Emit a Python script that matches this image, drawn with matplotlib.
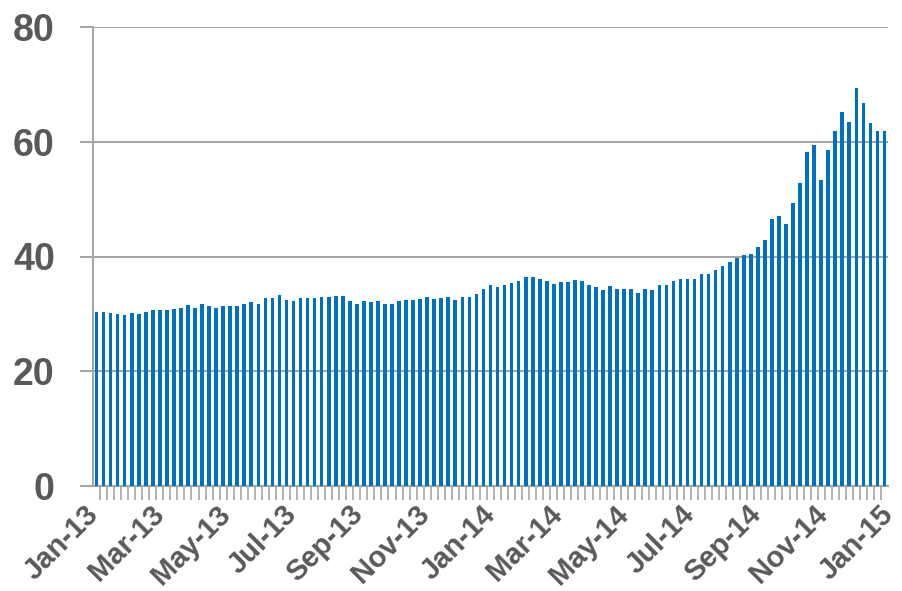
"""Weekly bars, Jan-13 to Jan-15"""

import numpy as np
import matplotlib.pyplot as plt
from matplotlib.transforms import ScaledTranslation

values = [
    30.3, 30.3, 30.2, 30.0, 29.8, 30.1, 30.0, 30.4, 30.7, 30.7,
    30.6, 30.8, 31.0, 31.5, 31.1, 31.7, 31.3, 31.0, 31.4, 31.4,
    31.4, 31.8, 32.1, 31.7, 32.8, 32.8, 33.3, 32.5, 32.3, 32.7,
    32.7, 32.7, 32.9, 32.9, 33.2, 33.2, 32.3, 31.7, 32.2, 32.1,
    32.2, 31.7, 31.7, 32.2, 32.5, 32.4, 32.6, 33.0, 32.6, 32.8,
    32.9, 32.4, 33.0, 33.0, 33.4, 34.4, 35.0, 34.7, 35.1, 35.4,
    35.8, 36.4, 36.5, 36.1, 35.7, 35.2, 35.6, 35.5, 35.9, 35.8,
    35.1, 34.7, 34.1, 34.8, 34.3, 34.3, 34.3, 33.6, 34.3, 34.2,
    35.1, 35.1, 35.7, 36.1, 36.1, 36.0, 37.0, 36.9, 37.6, 38.3,
    39.0, 39.8, 40.3, 40.5, 41.7, 42.9, 46.6, 47.1, 45.7, 49.3,
    52.8, 58.2, 59.4, 53.3, 58.6, 61.9, 65.1, 63.5, 69.3, 66.7,
    63.3, 61.9, 61.8,
]

month_labels = ['Jan-13', 'Mar-13', 'May-13', 'Jul-13', 'Sep-13', 'Nov-13', 'Jan-14',
                'Mar-14', 'May-14', 'Jul-14', 'Sep-14', 'Nov-14', 'Jan-15']

y_ticks = [0, 20, 40, 60, 80]

grey = '#a6a6a6'
text_grey = '#595959'
font = ['Liberation Sans', 'DejaVu Sans']


def plot_weekly():
    n = len(values)
    x = np.arange(n)

    fig = plt.figure(figsize=(9.02, 5.91), dpi=100)
    ax = fig.add_axes([93 / 902, 105 / 591, 795 / 902, 459 / 591])

    ax.bar(x, values, width=0.52, color='#0070c0', zorder=3)

    ax.set_xlim(-0.5, n - 0.5)
    ax.set_ylim(0, 80)

    # gridlines + y axis
    ax.set_yticks(y_ticks)
    ax.yaxis.grid(True, color=grey, linewidth=1.5)
    ax.set_axisbelow(True)
    ax.tick_params(axis='y', length=9.5, width=1.5, color=grey, pad=18)
    for lab in ax.get_yticklabels():
        lab.set_family(font)
        lab.set_fontsize(27)
        lab.set_fontweight('bold')
        lab.set_color(text_grey)

    # category boundaries as minor ticks, month labels evenly spread
    ax.set_xticks(np.arange(n + 1) - 0.5, minor=True)
    label_pos = -0.5 + np.arange(len(month_labels)) * n / (len(month_labels) - 1)
    ax.set_xticks(label_pos)
    ax.set_xticklabels(month_labels, rotation=45, ha='right', va='top',
                       rotation_mode='anchor', family=font, fontsize=21,
                       fontweight='bold', color=text_grey)
    ax.tick_params(axis='x', which='minor', length=10, width=1.2, color=grey)
    ax.tick_params(axis='x', which='major', length=0, pad=10)
    # nudge the rotated labels left so their right tip sits on the tick
    shift = ScaledTranslation(-0.09, 0, fig.dpi_scale_trans)
    for lab in ax.get_xticklabels():
        lab.set_transform(lab.get_transform() + shift)

    for side in ['top', 'right']:
        ax.spines[side].set_visible(False)
    for side in ['left', 'bottom']:
        ax.spines[side].set_color(grey)
        ax.spines[side].set_linewidth(1.5)

    fig.savefig('out.png', dpi=100)


if __name__ == '__main__':
    plot_weekly()
